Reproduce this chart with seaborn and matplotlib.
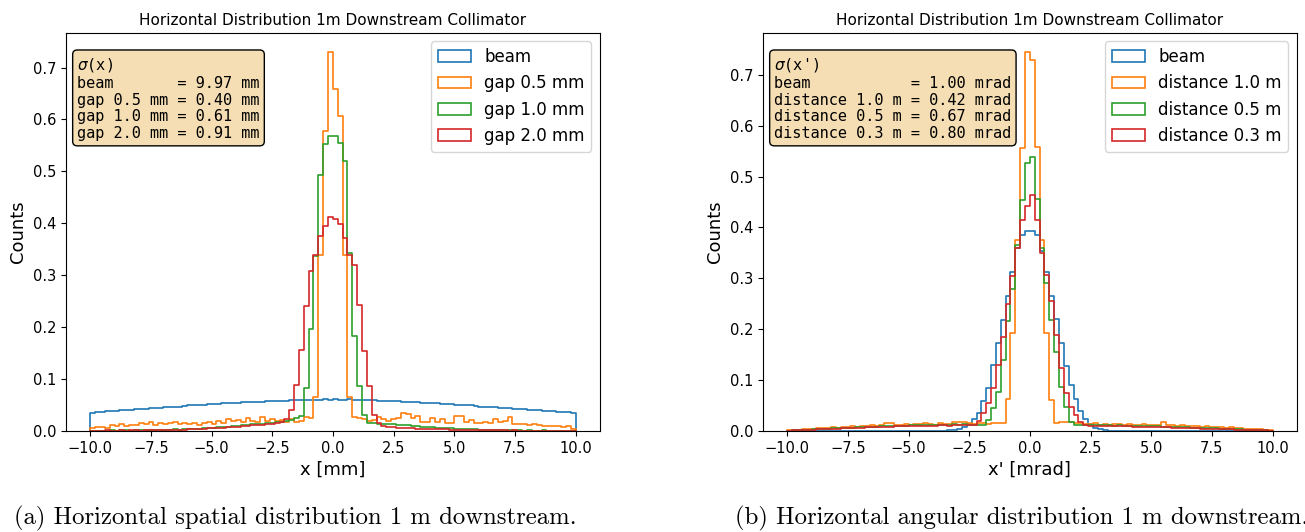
import numpy as np
import pandas as pd
import matplotlib
matplotlib.use('Agg')
import matplotlib.pyplot as plt
from matplotlib.patches import Patch
import seaborn as sns

sns.set_style('ticks')
plt.rcParams['font.family'] = ['DejaVu Sans']
plt.rcParams['axes.edgecolor'] = 'black'
plt.rcParams['xtick.color'] = 'black'
plt.rcParams['ytick.color'] = 'black'
plt.rcParams['text.color'] = 'black'
plt.rcParams['axes.labelcolor'] = 'black'

# 100 bins of 0.2 between -10 and 10
n_bins = 100
lo, hi = -10, 10
centers = np.linspace(lo, hi, n_bins + 1)[:-1] + 0.1

# left panel: spatial distribution (density per bin)
beam_x = [
    0.035, 0.036, 0.037, 0.038, 0.038, 0.039, 0.040, 0.041, 0.041, 0.042,
    0.042, 0.043, 0.044, 0.044, 0.045, 0.046, 0.046, 0.047, 0.047, 0.048,
    0.049, 0.049, 0.050, 0.050, 0.051, 0.052, 0.052, 0.053, 0.053, 0.054,
    0.054, 0.055, 0.055, 0.056, 0.056, 0.056, 0.057, 0.057, 0.058, 0.058,
    0.058, 0.059, 0.059, 0.059, 0.060, 0.059, 0.060, 0.060, 0.061, 0.060,
    0.061, 0.060, 0.060, 0.061, 0.060, 0.059, 0.060, 0.059, 0.059, 0.058,
    0.058, 0.058, 0.057, 0.057, 0.056, 0.056, 0.055, 0.055, 0.054, 0.054,
    0.053, 0.053, 0.052, 0.052, 0.051, 0.050, 0.050, 0.049, 0.049, 0.048,
    0.047, 0.047, 0.046, 0.046, 0.045, 0.044, 0.044, 0.043, 0.042, 0.042,
    0.041, 0.040, 0.040, 0.039, 0.038, 0.038, 0.037, 0.036, 0.036, 0.035]
gap05_x = [
    0.006, 0.008, 0.008, 0.005, 0.011, 0.009, 0.013, 0.010, 0.012, 0.011,
    0.016, 0.014, 0.017, 0.012, 0.016, 0.013, 0.015, 0.018, 0.014, 0.016,
    0.013, 0.015, 0.012, 0.016, 0.017, 0.014, 0.019, 0.016, 0.022, 0.019,
    0.021, 0.017, 0.024, 0.020, 0.018, 0.026, 0.020, 0.022, 0.019, 0.021,
    0.018, 0.022, 0.017, 0.020, 0.027, 0.025, 0.065, 0.338, 0.577, 0.730,
    0.658, 0.606, 0.338, 0.066, 0.026, 0.024, 0.022, 0.020, 0.021, 0.026,
    0.023, 0.020, 0.022, 0.024, 0.034, 0.033, 0.024, 0.029, 0.018, 0.017,
    0.024, 0.018, 0.022, 0.015, 0.015, 0.029, 0.028, 0.018, 0.021, 0.016,
    0.015, 0.017, 0.016, 0.022, 0.018, 0.019, 0.027, 0.013, 0.014, 0.013,
    0.012, 0.013, 0.012, 0.010, 0.009, 0.010, 0.009, 0.008, 0.009, 0.004]
gap10_x = [
    0.000, 0.000, 0.000, 0.000, 0.001, 0.000, 0.001, 0.001, 0.000, 0.001,
    0.001, 0.001, 0.001, 0.002, 0.001, 0.002, 0.002, 0.003, 0.002, 0.003,
    0.003, 0.004, 0.004, 0.005, 0.005, 0.006, 0.007, 0.007, 0.008, 0.009,
    0.010, 0.011, 0.012, 0.013, 0.013, 0.014, 0.015, 0.016, 0.017, 0.018,
    0.020, 0.021, 0.024, 0.028, 0.082, 0.196, 0.337, 0.493, 0.552, 0.569,
    0.568, 0.554, 0.519, 0.342, 0.183, 0.087, 0.031, 0.015, 0.015, 0.014,
    0.014, 0.013, 0.013, 0.012, 0.011, 0.011, 0.010, 0.009, 0.008, 0.008,
    0.007, 0.006, 0.006, 0.005, 0.005, 0.004, 0.004, 0.003, 0.003, 0.003,
    0.002, 0.002, 0.002, 0.001, 0.002, 0.001, 0.001, 0.001, 0.001, 0.000,
    0.001, 0.000, 0.000, 0.001, 0.000, 0.000, 0.000, 0.000, 0.000, 0.000]
gap20_x = [
    0.000, 0.000, 0.000, 0.001, 0.000, 0.000, 0.001, 0.000, 0.001, 0.001,
    0.000, 0.001, 0.001, 0.001, 0.001, 0.001, 0.001, 0.002, 0.002, 0.002,
    0.003, 0.003, 0.004, 0.004, 0.005, 0.005, 0.006, 0.006, 0.007, 0.008,
    0.008, 0.009, 0.010, 0.011, 0.012, 0.012, 0.013, 0.014, 0.015, 0.017,
    0.022, 0.040, 0.089, 0.156, 0.241, 0.308, 0.338, 0.376, 0.395, 0.413,
    0.408, 0.399, 0.371, 0.338, 0.320, 0.243, 0.153, 0.087, 0.031, 0.015,
    0.010, 0.008, 0.007, 0.006, 0.006, 0.005, 0.005, 0.004, 0.004, 0.004,
    0.003, 0.003, 0.003, 0.003, 0.002, 0.002, 0.002, 0.002, 0.002, 0.001,
    0.001, 0.001, 0.001, 0.001, 0.001, 0.001, 0.000, 0.001, 0.000, 0.000,
    0.000, 0.000, 0.000, 0.000, 0.000, 0.000, 0.000, 0.000, 0.000, 0.000]

# right panel: angular distribution
beam_xp = [
    0.000, 0.000, 0.000, 0.000, 0.000, 0.000, 0.000, 0.000, 0.000, 0.000,
    0.000, 0.000, 0.000, 0.000, 0.000, 0.000, 0.000, 0.000, 0.000, 0.000,
    0.000, 0.000, 0.000, 0.000, 0.000, 0.000, 0.000, 0.000, 0.000, 0.000,
    0.000, 0.000, 0.000, 0.001, 0.002, 0.004, 0.008, 0.014, 0.024, 0.036,
    0.058, 0.085, 0.130, 0.173, 0.219, 0.265, 0.312, 0.360, 0.386, 0.393,
    0.393, 0.385, 0.354, 0.312, 0.266, 0.220, 0.172, 0.128, 0.090, 0.062,
    0.040, 0.024, 0.014, 0.006, 0.003, 0.001, 0.000, 0.000, 0.000, 0.000,
    0.000, 0.000, 0.000, 0.000, 0.000, 0.000, 0.000, 0.000, 0.000, 0.000,
    0.000, 0.000, 0.000, 0.000, 0.000, 0.000, 0.000, 0.000, 0.000, 0.000,
    0.000, 0.000, 0.000, 0.000, 0.000, 0.000, 0.000, 0.000, 0.000, 0.000]
d10_xp = [
    0.001, 0.002, 0.002, 0.003, 0.004, 0.004, 0.005, 0.006, 0.005, 0.007,
    0.006, 0.008, 0.007, 0.009, 0.008, 0.010, 0.009, 0.011, 0.010, 0.012,
    0.016, 0.015, 0.011, 0.012, 0.013, 0.011, 0.013, 0.014, 0.016, 0.013,
    0.012, 0.015, 0.014, 0.013, 0.018, 0.017, 0.018, 0.016, 0.014, 0.015,
    0.015, 0.014, 0.016, 0.015, 0.016, 0.063, 0.192, 0.375, 0.556, 0.745,
    0.729, 0.559, 0.376, 0.192, 0.061, 0.016, 0.017, 0.018, 0.018, 0.016,
    0.015, 0.014, 0.013, 0.015, 0.012, 0.013, 0.012, 0.014, 0.013, 0.012,
    0.013, 0.012, 0.011, 0.014, 0.012, 0.012, 0.011, 0.018, 0.012, 0.011,
    0.010, 0.011, 0.009, 0.010, 0.009, 0.008, 0.009, 0.008, 0.007, 0.008,
    0.006, 0.007, 0.005, 0.005, 0.004, 0.004, 0.003, 0.003, 0.002, 0.001]
d05_xp = [
    0.000, 0.001, 0.001, 0.002, 0.002, 0.003, 0.003, 0.004, 0.004, 0.005,
    0.005, 0.006, 0.006, 0.006, 0.007, 0.007, 0.008, 0.008, 0.008, 0.009,
    0.009, 0.009, 0.010, 0.010, 0.010, 0.011, 0.011, 0.011, 0.011, 0.012,
    0.012, 0.012, 0.012, 0.012, 0.013, 0.012, 0.013, 0.012, 0.012, 0.012,
    0.012, 0.021, 0.045, 0.077, 0.139, 0.216, 0.278, 0.366, 0.454, 0.526,
    0.539, 0.456, 0.359, 0.290, 0.218, 0.156, 0.087, 0.048, 0.018, 0.012,
    0.011, 0.012, 0.011, 0.011, 0.012, 0.011, 0.011, 0.010, 0.011, 0.010,
    0.010, 0.010, 0.009, 0.010, 0.009, 0.009, 0.009, 0.008, 0.008, 0.008,
    0.007, 0.007, 0.007, 0.006, 0.006, 0.006, 0.005, 0.005, 0.005, 0.004,
    0.004, 0.003, 0.003, 0.003, 0.002, 0.002, 0.002, 0.001, 0.001, 0.000]
d03_xp = [
    0.000, 0.001, 0.001, 0.001, 0.002, 0.002, 0.003, 0.003, 0.004, 0.004,
    0.004, 0.005, 0.005, 0.006, 0.006, 0.006, 0.007, 0.007, 0.007, 0.008,
    0.008, 0.008, 0.009, 0.009, 0.009, 0.009, 0.010, 0.010, 0.010, 0.010,
    0.010, 0.011, 0.011, 0.010, 0.011, 0.011, 0.011, 0.011, 0.012, 0.020,
    0.035, 0.055, 0.085, 0.130, 0.185, 0.250, 0.305, 0.360, 0.415, 0.442,
    0.464, 0.415, 0.350, 0.307, 0.255, 0.188, 0.123, 0.074, 0.048, 0.032,
    0.018, 0.012, 0.010, 0.010, 0.010, 0.009, 0.010, 0.009, 0.009, 0.009,
    0.009, 0.008, 0.008, 0.008, 0.008, 0.007, 0.007, 0.007, 0.007, 0.006,
    0.006, 0.006, 0.005, 0.005, 0.005, 0.004, 0.004, 0.004, 0.003, 0.003,
    0.003, 0.003, 0.002, 0.002, 0.002, 0.001, 0.001, 0.001, 0.001, 0.000]

labels_x = ['beam', 'gap 0.5 mm', 'gap 1.0 mm', 'gap 2.0 mm']
sigmas_x = [9.97, 0.40, 0.61, 0.91]
labels_xp = ['beam', 'distance 1.0 m', 'distance 0.5 m', 'distance 0.3 m']
sigmas_xp = [1.00, 0.42, 0.67, 0.80]

colors = sns.color_palette('tab10', 4)

fig = plt.figure(figsize=(13.05, 5.32), dpi=100)
ax1 = fig.add_axes([0.0506, 0.19, 0.409, 0.748])
ax2 = fig.add_axes([0.5847, 0.19, 0.409, 0.748])


def draw(ax, series, labels, sigmas, unit, sym, xlabel):
    for vals, c in zip(series, colors):
        df = pd.DataFrame({'pos': centers, 'w': vals})
        sns.histplot(data=df, x='pos', weights='w', bins=n_bins, binrange=(lo, hi),
                     element='step', fill=False, color=c, lw=1.2, ax=ax)
        # close the outline down to the baseline at both ends, like a step histogram
        line = ax.lines[-1]
        xs, ys = line.get_data()
        line.set_data(np.r_[xs[0], xs, xs[-1]], np.r_[0, ys, 0])
    handles = [Patch(facecolor='none', edgecolor=c, lw=1.2) for c in colors]
    ax.legend(handles, labels, loc='upper right', fontsize=12)
    w = max(len(l) for l in labels)
    lines = [r'$\sigma$(%s)' % sym]
    lines += ['%s = %.2f %s' % (l.ljust(w), s, unit) for l, s in zip(labels, sigmas)]
    ax.text(0.021, 0.942, '\n'.join(lines), transform=ax.transAxes,
            family='DejaVu Sans Mono', fontsize=11, va='top', ha='left',
            linespacing=1.15,
            bbox=dict(boxstyle='round', facecolor='wheat', edgecolor='black'))
    ax.set_title('Horizontal Distribution 1m Downstream Collimator', fontsize=11)
    ax.set_xlabel(xlabel, fontsize=13)
    ax.set_ylabel('Counts', fontsize=13)
    ax.tick_params(labelsize=10.5)


draw(ax1, [beam_x, gap05_x, gap10_x, gap20_x], labels_x, sigmas_x, 'mm', 'x', 'x [mm]')
draw(ax2, [beam_xp, d10_xp, d05_xp, d03_xp], labels_xp, sigmas_xp, 'mrad', "x'", "x' [mrad]")

fig.text(0.011, 0.014, '(a) Horizontal spatial distribution 1 m downstream.',
         family='cmr10', fontsize=17.8)
fig.text(0.563, 0.014, '(b) Horizontal angular distribution 1 m downstream.',
         family='cmr10', fontsize=17.8)

fig.savefig('out.png', dpi=100)
